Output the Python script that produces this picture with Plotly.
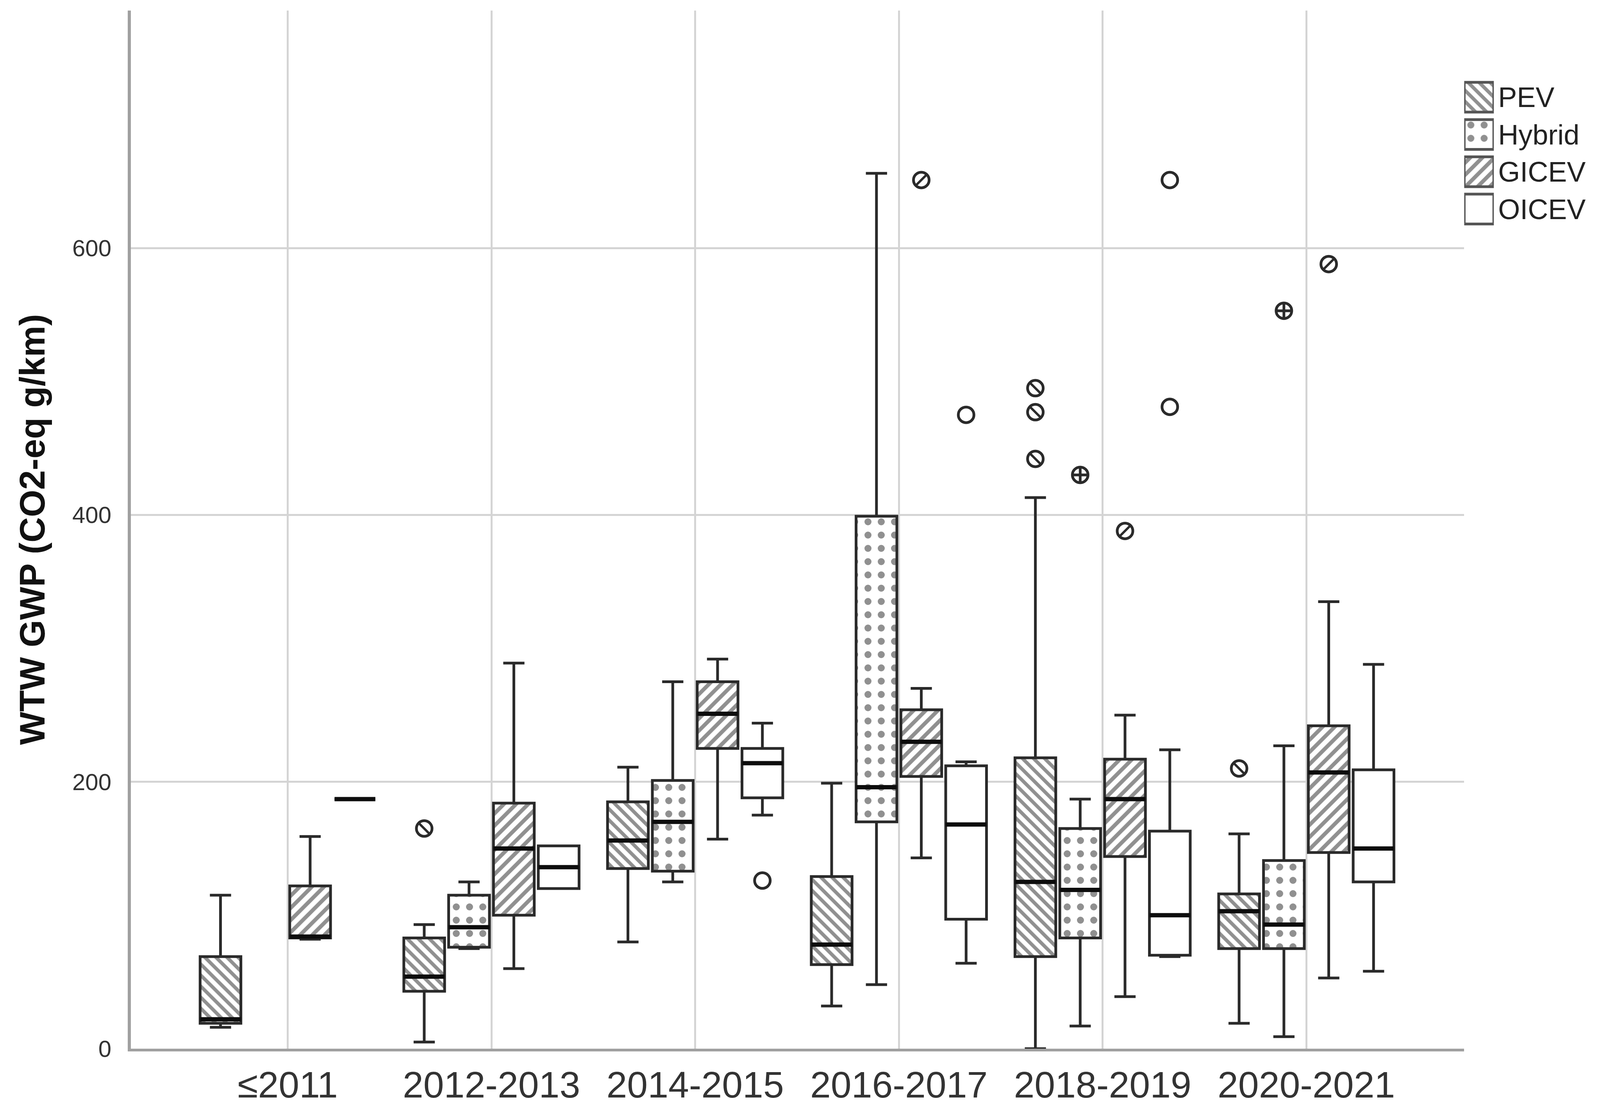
import plotly.graph_objects as go

# ---------------- data ----------------
categories = ["≤2011", "2012-2013", "2014-2015", "2016-2017", "2018-2019", "2020-2021"]
types = ["PEV", "Hybrid", "GICEV", "OICEV"]

pev_cats = categories
pev_low = [16, 5, 80, 32, 0, 19]
pev_q1 = [19, 43, 135, 63, 69, 75]
pev_med = [22, 54, 156, 78, 125, 103]
pev_q3 = [69, 83, 185, 129, 218, 116]
pev_high = [115, 93, 211, 199, 413, 161]

hyb_cats = categories[1:]
hyb_low = [75, 125, 48, 17, 9]
hyb_q1 = [76, 133, 170, 83, 75]
hyb_med = [91, 170, 196, 119, 93]
hyb_q3 = [115, 201, 399, 165, 141]
hyb_high = [125, 275, 656, 187, 227]

gic_cats = categories
gic_low = [82, 60, 157, 143, 39, 53]
gic_q1 = [83, 100, 225, 204, 144, 147]
gic_med = [84, 150, 251, 230, 187, 207]
gic_q3 = [122, 184, 275, 254, 217, 242]
gic_high = [159, 289, 292, 270, 250, 335]

oic_cats = categories
oic_low = [187, 120, 175, 64, 69, 58]
oic_q1 = [187, 120, 188, 97, 70, 125]
oic_med = [187, 136, 214, 168, 100, 150]
oic_q3 = [187, 152, 225, 212, 163, 209]
oic_high = [187, 152, 244, 215, 224, 288]

pev_out_x = ["2012-2013", "2018-2019", "2018-2019", "2018-2019", "2020-2021"]
pev_out_y = [165, 495, 477, 442, 210]
hyb_out_x = ["2018-2019", "2020-2021"]
hyb_out_y = [430, 553]
gic_out_x = ["2016-2017", "2018-2019", "2020-2021"]
gic_out_y = [651, 388, 588]
oic_out_x = ["2014-2015", "2016-2017", "2018-2019", "2018-2019"]
oic_out_y = [126, 475, 651, 481]

y_ticks = [0, 200, 400, 600]

# ---------------- styles ----------------
series = {
    "PEV": dict(cats=pev_cats, low=pev_low, q1=pev_q1, med=pev_med, q3=pev_q3, high=pev_high,
                ox=pev_out_x, oy=pev_out_y, shape="\\", psize=20, solid=0.45,
                osym="circle-open", slash="line-nw"),
    "Hybrid": dict(cats=hyb_cats, low=hyb_low, q1=hyb_q1, med=hyb_med, q3=hyb_q3, high=hyb_high,
                   ox=hyb_out_x, oy=hyb_out_y, shape=".", psize=34, solid=0.22,
                   osym="circle-cross-open", slash=None),
    "GICEV": dict(cats=gic_cats, low=gic_low, q1=gic_q1, med=gic_med, q3=gic_q3, high=gic_high,
                  ox=gic_out_x, oy=gic_out_y, shape="/", psize=22, solid=0.45,
                  osym="circle-open", slash="line-ne"),
    "OICEV": dict(cats=oic_cats, low=oic_low, q1=oic_q1, med=oic_med, q3=oic_q3, high=oic_high,
                  ox=oic_out_x, oy=oic_out_y, shape="", psize=20, solid=0.3,
                  osym="circle-open", slash=None),
}

FONT = "Liberation Sans, Arial, sans-serif"
LINE = "#2a2a2a"
HATCH = "#222222"
CLEAR = "rgba(0,0,0,0)"

W, H = 4203, 2842
ML, MR, MT, MB = 335, 20, 27, 143
PW = W - ML - MR
PH = H - MT - MB
main_end = (3846 - ML) / PW

fig = go.Figure()

# patterned box bodies (bars underneath the box outlines)
for t in types:
    s = series[t]
    fig.add_trace(go.Bar(
        x=s["cats"], y=[b - a for a, b in zip(s["q1"], s["q3"])], base=s["q1"],
        marker=dict(color="white", line=dict(width=0),
                    pattern=dict(shape=s["shape"], fgcolor=HATCH, bgcolor="white",
                                 size=s["psize"], solidity=s["solid"])),
        offsetgroup=t, alignmentgroup="bars", showlegend=False, hoverinfo="skip"))

# box outlines + whiskers
for t in types:
    s = series[t]
    fig.add_trace(go.Box(
        x=s["cats"], q1=s["q1"], median=s["med"], q3=s["q3"],
        lowerfence=s["low"], upperfence=s["high"],
        fillcolor=CLEAR, line=dict(color=LINE, width=7), whiskerwidth=0.52,
        boxpoints=False, offsetgroup=t, alignmentgroup="boxes",
        showlegend=False, hoverinfo="skip"))

# thick medians
for t in types:
    s = series[t]
    fig.add_trace(go.Box(
        x=s["cats"], q1=s["med"], median=s["med"], q3=s["med"],
        lowerfence=s["med"], upperfence=s["med"],
        fillcolor=CLEAR, line=dict(color="#0d0d0d", width=11), whiskerwidth=0,
        boxpoints=False, offsetgroup=t, alignmentgroup="boxes",
        showlegend=False, hoverinfo="skip"))

# outliers
for t in types:
    s = series[t]
    fig.add_trace(go.Box(
        x=s["ox"], y=s["oy"], boxpoints="all", jitter=0, pointpos=0,
        fillcolor=CLEAR, line=dict(color=CLEAR, width=0), whiskerwidth=0,
        marker=dict(symbol=s["osym"], size=40, color=LINE, line=dict(width=7, color=LINE)),
        offsetgroup=t, alignmentgroup="boxes", showlegend=False, hoverinfo="skip"))
    if s["slash"]:
        fig.add_trace(go.Box(
            x=s["ox"], y=s["oy"], boxpoints="all", jitter=0, pointpos=0,
            fillcolor=CLEAR, line=dict(color=CLEAR, width=0), whiskerwidth=0,
            marker=dict(symbol=s["slash"], size=26, color=LINE, line=dict(width=6, color=LINE)),
            offsetgroup=t, alignmentgroup="boxes", showlegend=False, hoverinfo="skip"))

# custom legend swatches
fig.add_trace(go.Bar(
    x=[1] * len(types), y=types, base=0, orientation="h", width=0.8,
    xaxis="x2", yaxis="y2",
    marker=dict(color="white", line=dict(color="#555555", width=7),
                pattern=dict(shape=[series[t]["shape"] for t in types],
                             size=[series[t]["psize"] for t in types],
                             solidity=[series[t]["solid"] for t in types],
                             fgcolor=HATCH, bgcolor="white")),
    showlegend=False, hoverinfo="skip"))

leg_x0 = (3846 - ML) / PW
leg_x1 = (3924 - ML) / PW
leg_y1 = (H - MB - 202) / PH
leg_y0 = (H - MB - 586) / PH

fig.update_layout(
    autosize=True,
    margin=dict(l=ML, r=MR, t=MT, b=MB, pad=0),
    paper_bgcolor="white", plot_bgcolor="white",
    font=dict(family=FONT, color="#333333"),
    barmode="group", bargap=0.12, bargroupgap=0.09,
    boxmode="group", boxgap=0.12, boxgroupgap=0.09,
    showlegend=False,
    xaxis=dict(domain=[0, main_end], type="category", categoryorder="array",
               categoryarray=categories, range=[-0.77, 5.775],
               showgrid=True, gridcolor="#d4d4d4", gridwidth=5,
               showline=True, linecolor="#a0a0a0", linewidth=7,
               ticks="", tickfont=dict(size=95, color="#333333"),
               ticklabelstandoff=4, zeroline=False, fixedrange=True),
    yaxis=dict(range=[0, 778], tickvals=y_ticks, ticktext=[str(v) for v in y_ticks],
               showgrid=True, gridcolor="#d4d4d4", gridwidth=5,
               showline=True, linecolor="#a0a0a0", linewidth=8,
               ticks="", tickfont=dict(size=60, color="#333333"),
               ticklabelstandoff=30, zeroline=False, fixedrange=True),
    xaxis2=dict(domain=[leg_x0, leg_x1], range=[0, 1], anchor="y2", visible=False,
                fixedrange=True),
    yaxis2=dict(domain=[leg_y0, leg_y1], anchor="x2", side="right", type="category",
                categoryorder="array", categoryarray=types, autorange="reversed",
                showgrid=False, showline=False, zeroline=False, ticks="",
                tickfont=dict(size=72, color="#222222"), ticklabelstandoff=10,
                fixedrange=True),
    annotations=[dict(text="<b>WTW GWP (CO2-eq g/km)</b>", xref="paper", yref="paper",
                      x=(76 - ML) / PW, y=0.5, xanchor="center", yanchor="middle",
                      textangle=-90, showarrow=False,
                      font=dict(size=90, color="#111111", family=FONT))],
)

fig.write_html(
    "out.html",
    default_width="100vw",
    default_height="100vh",
    config={"responsive": True, "displayModeBar": False},
    post_script="document.body.style.margin='0';document.body.style.overflow='hidden';"
                "document.documentElement.style.overflow='hidden';",
)
